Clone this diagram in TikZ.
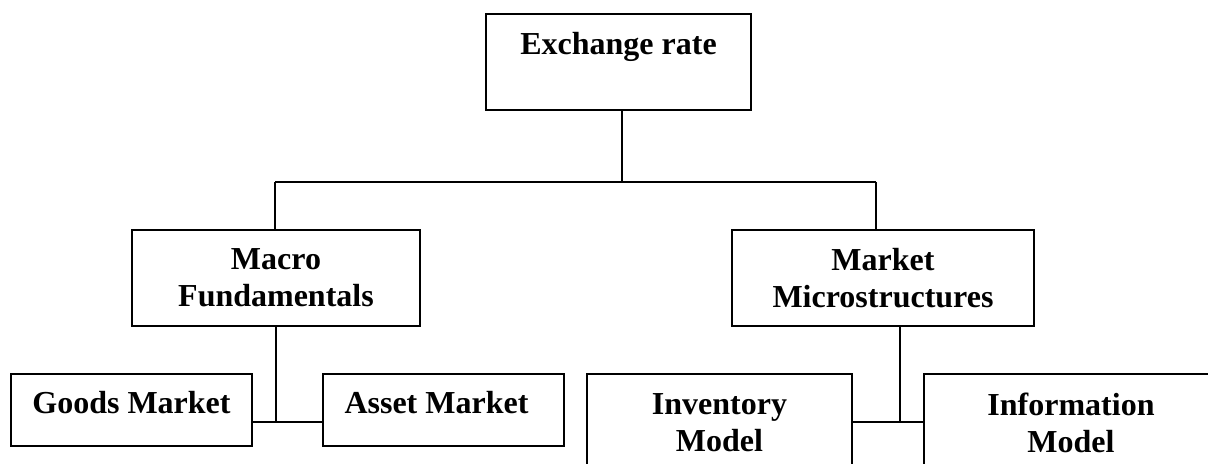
\documentclass[tikz,border=0pt]{standalone}
\usepackage{fontspec}
\setmainfont{Liberation Serif}
\begin{document}
\begin{tikzpicture}[x=0.5pt,y=-0.5pt,
  box/.style={draw,line width=1.1pt,inner sep=0pt,align=center,
    font=\fontsize{16pt}{18.5pt}\selectfont\bfseries},
  link/.style={line width=0.9pt}]
\useasboundingbox (0,0) rectangle (1208,464);
\clip (0,0) rectangle (1208,464);
\node[box,minimum width=132.5pt,minimum height=48pt,text height=20.5pt,text depth=27.5pt] (ex) at (618.5,62) {Exchange rate};
\node[box,minimum width=144pt,minimum height=48pt] (macro) at (276,278) {Macro\\Fundamentals};
\node[box,minimum width=151pt,minimum height=48pt] (market) at (883,278) {Market\\Microstructures};
\node[box,minimum width=120.5pt,minimum height=36pt,text height=19.5pt,text depth=16.5pt] (goods) at (131.5,410) {Goods Market};
\node[box,minimum width=120.5pt,minimum height=36pt,text height=19.5pt,text depth=16.5pt] (asset) at (443.5,410) {Asset Market\hspace{7pt}};
\node[box,minimum width=132.5pt,minimum height=49pt] (inv) at (719.5,423) {Inventory\\Model};
\node[box,minimum width=147pt,minimum height=49pt] (info) at (1071,423) {Information\\Model};
\coordinate (j0) at (622,182);
\coordinate (jl) at (275,182);
\coordinate (jr) at (876,182);
\coordinate (mj) at (276,422);
\coordinate (kj) at (900,422);
\draw[link] (ex.south -| j0) -- (j0);
\draw[link] (jl) -- (jr);
\draw[link] (jl) -- (jl |- macro.north);
\draw[link] (jr) -- (jr |- market.north);
\draw[link] (macro.south -| mj) -- (mj);
\draw[link] (goods.east |- mj) -- (asset.west |- mj);
\draw[link] (market.south -| kj) -- (kj);
\draw[link] (inv.east |- kj) -- (info.west |- kj);
\end{tikzpicture}
\end{document}
